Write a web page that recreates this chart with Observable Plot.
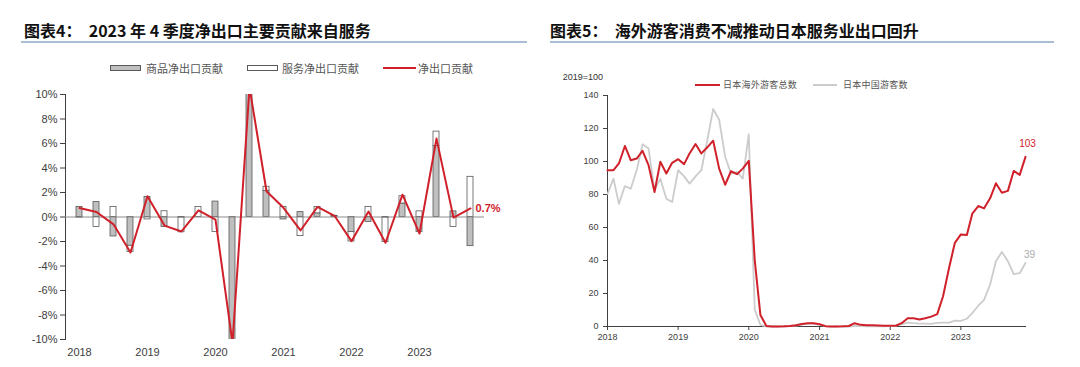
<!DOCTYPE html>
<html>
<head>
<meta charset="utf-8">
<script src="https://cdn.jsdelivr.net/npm/d3@7"></script>
<script src="https://cdn.jsdelivr.net/npm/@observablehq/plot@0.6"></script>
<style>
  body { margin: 0; background: #ffffff; }
  #root { position: relative; width: 1080px; height: 367px; overflow: hidden; background: #fff; font-family: "Liberation Sans", Arial, sans-serif; }
  .title { position: absolute; top: 20px; font-family: "Noto Sans CJK SC", sans-serif; font-weight: 700; font-size: 16px; line-height: 20px; color: #111; white-space: pre; }
  .hr { position: absolute; top: 41px; height: 2px; background: #a9bdd4; }
  .leg { position: absolute; font-family: "Noto Sans CJK SC", sans-serif; white-space: nowrap; color: #555; }
  .sw { position: absolute; box-sizing: border-box; }
  .plot { position: absolute; top: 80px; }
</style>
</head>
<body>
<div id="root">
  <div class="title" style="left:24px;">图表4：  2023 年 4 季度净出口主要贡献来自服务</div>
  <div class="hr" style="left:21px; width:506px;"></div>
  <div class="title" style="left:550px;">图表5：  海外游客消费不减推动日本服务业出口回升</div>
  <div class="hr" style="left:550px; width:504px;"></div>

  <div class="sw" style="left:110px; top:65px; width:31px; height:6px; background:#bfbfbf; border:1px solid #595959;"></div>
  <div class="leg" style="left:146px; top:60px; font-size:11px; line-height:16px;">商品净出口贡献</div>
  <div class="sw" style="left:247px; top:65px; width:31px; height:6px; background:#ffffff; border:1px solid #595959;"></div>
  <div class="leg" style="left:282px; top:60px; font-size:11px; line-height:16px;">服务净出口贡献</div>
  <div class="sw" style="left:383px; top:67px; width:33px; height:2px; background:#d0202a;"></div>
  <div class="leg" style="left:418px; top:60px; font-size:11px; line-height:16px;">净出口贡献</div>

  <div class="leg" style="left:553px; top:71px; width:50px; text-align:right; font-family:'Liberation Sans', Arial, sans-serif; font-size:9px; line-height:12px; color:#333;">2019=100</div>
  <div class="sw" style="left:695px; top:84px; width:25px; height:2px; background:#d0202a;"></div>
  <div class="leg" style="left:723px; top:78px; font-size:9px; line-height:14px; letter-spacing:0.25px;">日本海外游客总数</div>
  <div class="sw" style="left:813px; top:84px; width:24px; height:2px; background:#cccccc;"></div>
  <div class="leg" style="left:843px; top:78px; font-size:9px; line-height:14px; letter-spacing:0.25px;">日本中国游客数</div>

  <div id="left" class="plot" style="left:0px;"></div>
  <div id="right" class="plot" style="left:540px;"></div>
</div>
<script>
// ---------- Left chart data (quarterly contributions, %) ----------
const quarters = [
  "2018Q1","2018Q2","2018Q3","2018Q4",
  "2019Q1","2019Q2","2019Q3","2019Q4",
  "2020Q1","2020Q2","2020Q3","2020Q4",
  "2021Q1","2021Q2","2021Q3","2021Q4",
  "2022Q1","2022Q2","2022Q3","2022Q4",
  "2023Q1","2023Q2","2023Q3","2023Q4"
];
const yearTickQuarters = ["2018Q1","2019Q1","2020Q1","2021Q1","2022Q1","2023Q1"];
const goodsContribution = [
  0.82, 1.23, -1.59, -2.35,
  1.64, -0.82, -0.05, 0.0,
  1.26, -10.6, 10.8, 2.14,
  -0.2, 0.4, 0.3, 0.05,
  -1.23, -0.4, -0.05, 1.1,
  -1.23, 5.8, 0.46, -2.38
];
const servicesContribution = [
  -0.05, -0.82, 0.82, -0.5,
  -0.2, 0.47, -1.2, 0.82,
  -1.23, -0.3, 0.2, 0.33,
  0.82, -1.56, 0.52, 0.05,
  -0.77, 0.82, -2.0, 0.6,
  0.46, 1.17, -0.82, 3.28
];
const netExportsContribution = [
  0.74, 0.41, -0.6, -2.9,
  1.7, -0.7, -1.18, 0.55,
  -0.22, -10.3, 10.6, 2.1,
  0.75, -1.1, 0.82, 0.1,
  -1.97, 0.45, -2.1, 1.82,
  -1.35, 6.4, -0.05, 0.7
];
const barSeries = ["商品净出口贡献", "服务净出口贡献"];

// ---------- Right chart data (monthly, 2019=100) ----------
const firstMonth = "2018-01-01";
const visitorsTotal = [
  94.7, 94.7, 98.8, 109.4, 100.8, 101.8, 106.5, 97.8, 81.5, 99.8, 92.7, 99.2,
  101.4, 98.4, 104.9, 110.6, 104.9, 108.6, 112.6, 95.7, 85.9, 94.1, 92.3, 95.7,
  100.4, 40, 7, 0.3, 0, 0, 0.1, 0.3, 0.8, 1.5, 2.0, 2.0,
  1.4, 0.2, 0, 0, 0.1, 0.3, 2.0, 1.0, 0.8, 0.7, 0.6, 0.5,
  0.4, 0.6, 2.0, 5.0, 5.0, 4.3, 5.0, 6.0, 7.5, 18.3, 35.5, 50.7,
  55.8, 55.4, 68.4, 73.0, 71.6, 77.7, 86.8, 81.1, 82.2, 94.3, 91.9, 102.8
];
const visitorsChina = [
  80.4, 89.6, 74.3, 85.1, 83.5, 94.7, 110.4, 107.9, 82.5, 89.6, 77.4, 75.4,
  94.7, 91.0, 86.6, 91.0, 94.7, 113.0, 131.8, 125.3, 102.9, 92.7, 93.7, 89.6,
  116.5, 10.2, 1.0, 0, 0, 0, 0, 0.2, 0.6, 1.2, 1.8, 1.8,
  1.2, 0.2, 0, 0, 0, 0, 0.3, 0.2, 0.1, 0.1, 0.1, 0.1,
  0.2, 0.5, 1.5, 2.4, 2.0, 1.8, 1.8, 1.6, 2.2, 2.4, 2.4, 3.6,
  3.4, 4.7, 8.1, 12.6, 16.2, 25.4, 39.6, 45.2, 39.6, 31.8, 32.3, 38.5
];
const lineSeries = ["日本海外游客总数", "日本中国游客数"];

const RED = "#d0202a";

// ---------- Left chart ----------
const barData = quarters.flatMap((q, i) => [
  {q, series: barSeries[0], v: goodsContribution[i]},
  {q, series: barSeries[1], v: servicesContribution[i]}
]);
const netData = quarters.map((q, i) => ({q, v: netExportsContribution[i]}));

const leftPlot = Plot.plot({
  width: 540,
  height: 287,
  marginTop: 14,
  marginBottom: 28,
  marginLeft: 65,
  marginRight: 56,
  style: {fontFamily: "'Liberation Sans', Arial, sans-serif", fontSize: "11px", color: "#404040", background: "transparent", overflow: "visible"},
  x: {type: "band", domain: quarters, paddingInner: 0.66, paddingOuter: 0.03, ticks: yearTickQuarters, tickFormat: q => q.slice(0, 4), tickSize: 0, tickPadding: 9, label: null},
  y: {domain: [-10, 10], ticks: d3.range(-10, 11, 2), tickFormat: d => d + "%", tickSize: 5, tickPadding: 3, line: true, label: null},
  color: {domain: barSeries, range: ["#bfbfbf", "#ffffff"]},
  marks: [
    Plot.barY(barData, {x: "q", y: "v", fill: "series", stroke: "#595959", strokeWidth: 0.8, clip: true}),
    Plot.ruleY([0], {stroke: "#8c8c8c", strokeWidth: 1}),
    Plot.lineY(netData, {x: "q", y: "v", stroke: RED, strokeWidth: 2, clip: true}),
    Plot.text(netData, Plot.selectLast({x: "q", y: "v", text: d => d.v.toFixed(1) + "%", dx: 5, textAnchor: "start", fill: RED, fontWeight: "bold", fontSize: 11}))
  ]
});
document.getElementById("left").appendChild(leftPlot);

// ---------- Right chart ----------
const start = new Date(firstMonth + "T00:00:00Z");
const months = visitorsTotal.map((_, i) => d3.utcMonth.offset(start, i));
const totalData = months.map((m, i) => ({m, series: lineSeries[0], v: visitorsTotal[i]}));
const chinaData = months.map((m, i) => ({m, series: lineSeries[1], v: visitorsChina[i]}));
const yearTicks = d3.utcYear.range(months[0], d3.utcMonth.offset(months[months.length - 1], 1));

const rightPlot = Plot.plot({
  width: 540,
  height: 287,
  marginTop: 15,
  marginBottom: 41,
  marginLeft: 67,
  marginRight: 55,
  style: {fontFamily: "'Liberation Sans', Arial, sans-serif", fontSize: "9px", color: "#404040", background: "transparent", overflow: "visible"},
  x: {type: "utc", domain: [months[0], months[months.length - 1]], ticks: yearTicks, tickFormat: d3.utcFormat("%Y"), tickSize: 4, tickPadding: 3, line: true, label: null},
  y: {domain: [0, 140], ticks: d3.range(0, 141, 20), tickSize: 4, tickPadding: 5, line: true, label: null},
  marks: [
    Plot.lineY(chinaData, {x: "m", y: "v", stroke: "#cccccc", strokeWidth: 1.8}),
    Plot.lineY(totalData, {x: "m", y: "v", stroke: RED, strokeWidth: 2}),
    Plot.text(totalData, Plot.selectLast({x: "m", y: "v", text: d => Math.round(d.v), dy: -13, dx: 2, fill: RED, fontSize: 10})),
    Plot.text(chinaData, Plot.selectLast({x: "m", y: "v", text: d => Math.round(d.v), dy: -8, dx: 4, fill: "#aaaaaa", fontSize: 10}))
  ]
});
document.getElementById("right").appendChild(rightPlot);
</script>
</body>
</html>
